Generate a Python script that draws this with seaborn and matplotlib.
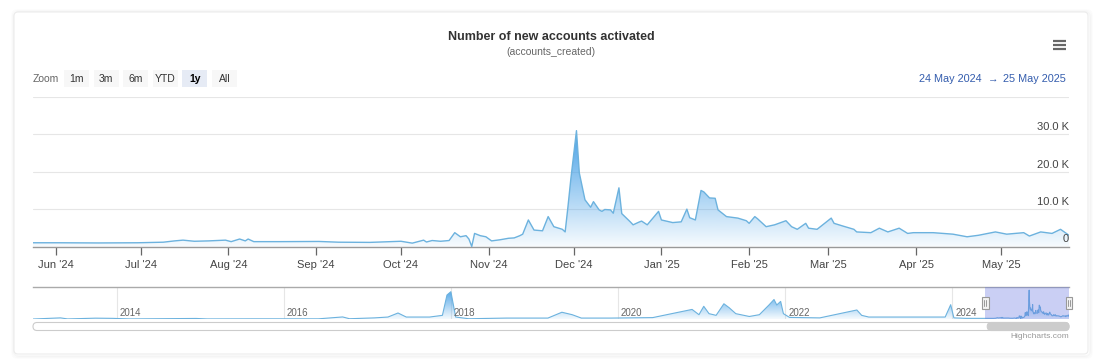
import numpy as np
import pandas as pd
import matplotlib
matplotlib.use("Agg")
import matplotlib.pyplot as plt
import matplotlib.dates as mdates
import matplotlib.transforms as mtransforms
from matplotlib.patches import FancyBboxPatch, Rectangle
from matplotlib.colors import LinearSegmentedColormap
import seaborn as sns

# ---- data ----
main_dates = [
    "2024-05-24", "2024-06-02", "2024-06-16", "2024-06-30", "2024-07-09", "2024-07-13",
    "2024-07-16", "2024-07-20", "2024-07-25", "2024-07-31", "2024-08-02", "2024-08-05",
    "2024-08-07", "2024-08-08", "2024-08-10", "2024-08-19", "2024-09-02", "2024-09-09",
    "2024-09-20", "2024-10-01", "2024-10-05", "2024-10-09", "2024-10-10", "2024-10-12",
    "2024-10-15", "2024-10-18", "2024-10-20", "2024-10-22", "2024-10-24", "2024-10-25",
    "2024-10-26", "2024-10-27", "2024-10-29", "2024-10-31", "2024-11-02", "2024-11-05",
    "2024-11-08", "2024-11-10", "2024-11-12", "2024-11-13", "2024-11-15", "2024-11-17",
    "2024-11-20", "2024-11-22", "2024-11-24", "2024-11-27", "2024-11-28", "2024-11-29",
    "2024-11-30", "2024-12-02", "2024-12-03", "2024-12-05", "2024-12-07", "2024-12-08",
    "2024-12-10", "2024-12-11", "2024-12-12", "2024-12-14", "2024-12-15", "2024-12-17",
    "2024-12-18", "2024-12-21", "2024-12-22", "2024-12-24", "2024-12-25", "2024-12-27",
    "2024-12-29", "2024-12-31", "2025-01-01", "2025-01-05", "2025-01-08", "2025-01-10",
    "2025-01-11", "2025-01-13", "2025-01-15", "2025-01-16", "2025-01-18", "2025-01-20",
    "2025-01-21", "2025-01-24", "2025-01-28", "2025-01-31", "2025-02-01", "2025-02-03",
    "2025-02-04", "2025-02-07", "2025-02-10", "2025-02-14", "2025-02-16", "2025-02-18",
    "2025-02-21", "2025-02-22", "2025-02-25", "2025-03-02", "2025-03-03", "2025-03-06",
    "2025-03-10", "2025-03-11", "2025-03-16", "2025-03-19", "2025-03-22", "2025-03-26",
    "2025-03-29", "2025-03-31", "2025-04-07", "2025-04-14", "2025-04-19", "2025-04-23",
    "2025-04-29", "2025-05-03", "2025-05-09", "2025-05-11", "2025-05-15", "2025-05-19",
    "2025-05-22", "2025-05-25",
]
main_counts = [
    1000, 1000, 950, 1000, 1150, 1500,
    1700, 1400, 1500, 1700, 1300, 2000,
    1500, 2000, 1300, 1300, 1350, 1150,
    1100, 1400, 900, 1700, 1200, 1600,
    1400, 1600, 3700, 2600, 2900, 2000,
    0, 3500, 2900, 2600, 1500, 1800,
    2200, 2300, 2900, 3300, 7100, 4400,
    4200, 8000, 5300, 4600, 3900, 10700,
    18000, 31000, 19700, 12500, 10500, 12000,
    9800, 9400, 9900, 9800, 8900, 15700,
    8800, 6600, 5800, 6500, 6800, 5800,
    7600, 9400, 7100, 6400, 6600, 10000,
    7700, 7100, 15000, 14600, 13000, 12900,
    9800, 8000, 7600, 6900, 6200, 8000,
    7400, 5300, 5800, 6900, 5300, 4600,
    6200, 4900, 4600, 7600, 6200, 5500,
    4600, 3900, 3700, 4900, 3900, 4900,
    3500, 3700, 3700, 3300, 2600, 3000,
    3900, 3300, 3700, 2800, 3900, 3500,
    4600, 3000,
]

# full history shown in the navigator (before the selected range)
hist_dates = [
    "2013-01-01", "2013-05-01", "2013-06-01", "2013-10-01", "2013-12-15", "2014-03-01",
    "2014-12-15", "2015-02-01", "2015-09-01", "2016-06-01", "2016-09-15", "2016-10-15",
    "2017-02-01", "2017-04-01", "2017-05-15", "2017-06-20", "2017-09-30", "2017-11-25",
    "2017-12-15", "2018-01-01", "2018-01-10", "2018-01-22", "2018-03-20", "2018-09-01",
    "2019-03-01", "2019-05-01", "2019-06-15", "2019-07-25", "2019-12-01", "2020-06-01",
    "2020-11-20", "2020-12-20", "2021-01-10", "2021-02-02", "2021-03-05", "2021-04-08",
    "2021-05-01", "2021-05-30", "2021-07-28", "2021-09-10", "2021-10-22", "2021-11-13",
    "2021-11-25", "2021-12-12", "2021-12-24", "2022-01-20", "2022-06-01", "2022-11-10",
    "2022-12-01", "2023-01-01", "2023-06-01", "2023-12-01", "2023-12-25", "2024-01-08",
    "2024-03-01", "2024-05-23",
]
hist_counts = [
    300, 1500, 400, 1200, 1000, 400,
    900, 400, 500, 500, 2500, 600,
    1500, 2400, 6700, 2400, 2400, 4200,
    25800, 29300, 18000, 2400, 600, 1300,
    1300, 7500, 4900, 1300, 1300, 1800,
    10500, 4900, 13800, 6000, 4200, 16500,
    12300, 6000, 3000, 4900, 15200, 21000,
    15200, 19000, 6000, 2000, 1500, 9900,
    4200, 2400, 2400, 2400, 15500, 1500,
    1000, 1000,
]

title = "Number of new accounts activated"
subtitle = "(accounts_created)"
zoom_buttons = ["1m", "3m", "6m", "YTD", "1y", "All"]
selected_button = "1y"
range_start = "2024-05-24"
range_end = "2025-05-25"
nav_start = "2013-01-01"
y_ticks = [0, 10000, 20000, 30000, 40000]

line_color = "#6cb2de"
fill_color = "#3f9de6"

sns.set_style("white")
plt.rcParams["font.family"] = ["Liberation Sans", "DejaVu Sans"]

W, H = 1099, 364
fig = plt.figure(figsize=(W / 100, H / 100), dpi=100)


def px_rect(x0, y0, x1, y1):
    return [x0 / W, 1 - y1 / H, (x1 - x0) / W, (y1 - y0) / H]


def gradient_area(ax, dates, values, lo_alpha, hi_alpha):
    poly = ax.fill_between(dates, 0, values, facecolor="none", edgecolor="none")
    cmap = LinearSegmentedColormap.from_list(
        "grad", [(*matplotlib.colors.to_rgb(fill_color), lo_alpha),
                 (*matplotlib.colors.to_rgb(fill_color), hi_alpha)])
    xs = mdates.date2num(dates)
    im = ax.imshow(np.linspace(0, 1, 256).reshape(-1, 1), aspect="auto", origin="lower",
                   extent=[xs.min(), xs.max(), 0, max(values)], cmap=cmap, zorder=1)
    im.set_clip_path(poly.get_paths()[0], transform=ax.transData)


# background card
bg = fig.add_axes([0, 0, 1, 1], zorder=0)
bg.set_xlim(0, W)
bg.set_ylim(H, 0)
bg.axis("off")
for grow, a in [(3, 0.012), (2, 0.02), (1, 0.03)]:
    bg.add_patch(FancyBboxPatch((14 - grow + 1, 12 - grow + 1), 1074 + 2 * grow, 342 + 2 * grow,
                                boxstyle="round,pad=0,rounding_size=5", fc="none",
                                ec=(0, 0, 0, a), lw=1.2))
bg.add_patch(FancyBboxPatch((14, 12), 1074, 342, boxstyle="round,pad=0,rounding_size=4",
                            fc="white", ec="#ececec", lw=0.8))

bg.text(551, 37, title, ha="center", va="center", fontsize=9, fontweight="bold", color="#333333")
bg.text(551, 52, subtitle, ha="center", va="center", fontsize=7.5, color="#666666")

# hamburger menu
for yy in (40.5, 44.5, 48.5):
    bg.plot([1053, 1066], [yy, yy], color="#666666", lw=1.6, solid_capstyle="butt")

# range selector buttons
bg.text(33, 79, "Zoom", ha="left", va="center", fontsize=7.5, color="#666666")
for i, lab in enumerate(zoom_buttons):
    x0 = 64 + i * 29.6
    sel = lab == selected_button
    bg.add_patch(Rectangle((x0, 70), 25, 17, fc="#e6ebf5" if sel else "#f7f7f7", ec="none"))
    bg.text(x0 + 12.5, 79, lab, ha="center", va="center", fontsize=7.5,
            color="#000000" if sel else "#333333", fontweight="bold" if sel else "normal")

start_lbl = pd.Timestamp(range_start).strftime("%d %b %Y").lstrip("0")
end_lbl = pd.Timestamp(range_end).strftime("%d %b %Y").lstrip("0")
bg.text(981.5, 79, start_lbl, ha="right", va="center", fontsize=7.8, color="#335cad")
bg.text(993, 79, "\u2192", ha="center", va="center", fontsize=7.5, color="#335cad")
bg.text(1066, 79, end_lbl, ha="right", va="center", fontsize=7.8, color="#335cad")

# ---- main chart ----
df = pd.DataFrame({"date": pd.to_datetime(main_dates), "count": main_counts})
ax = fig.add_axes(px_rect(33, 97, 1069, 246.5), zorder=1)
ax.patch.set_alpha(0)
gradient_area(ax, df["date"], df["count"], 0.04, 0.95)
sns.lineplot(data=df, x="date", y="count", ax=ax, color=line_color, lw=1.0, zorder=3)
ax.set_xlim(pd.Timestamp(range_start), pd.Timestamp(range_end))
ax.set_ylim(0, y_ticks[-1])
ax.set_xlabel("")
ax.set_ylabel("")
ax.set_yticks(y_ticks)
ax.yaxis.grid(True, color="#e6e6e6", lw=0.8)
ax.xaxis.grid(False)
ax.tick_params(axis="y", length=0, labelleft=False)
for v in y_ticks[:-1]:
    lbl = "0" if v == 0 else f"{v / 1000:.1f} K"
    ax.text(1.0, v, lbl, transform=mtransforms.offset_copy(ax.get_yaxis_transform(), fig=fig, x=0, y=2, units="dots"),
            ha="right", va="bottom", fontsize=8, color="#444444")
ax.xaxis.set_major_locator(mdates.MonthLocator())
ax.xaxis.set_major_formatter(mdates.DateFormatter("%b '%y"))
ax.tick_params(axis="x", bottom=True, direction="out", length=6, width=0.9, color="#666666",
               labelsize=8, labelcolor="#444444", pad=4)
sns.despine(ax=ax, left=True, top=True, right=True)
ax.spines["bottom"].set_color("#999999")
ax.spines["bottom"].set_linewidth(1.0)

# ---- navigator ----
nav_df = pd.concat([
    pd.DataFrame({"date": pd.to_datetime(hist_dates), "count": hist_counts}), df
], ignore_index=True)
nav = fig.add_axes(px_rect(33, 287.3, 1069, 319.3), zorder=1)
nav.patch.set_alpha(0)
gradient_area(nav, nav_df["date"], nav_df["count"], 0.05, 0.95)
sns.lineplot(data=nav_df, x="date", y="count", ax=nav, color=line_color, lw=0.8, zorder=3)
nav.set_xlim(pd.Timestamp(nav_start), pd.Timestamp(range_end))
nav.set_ylim(0, 34000)
nav.set_xlabel("")
nav.set_ylabel("")
nav.set_yticks([])
nav.xaxis.set_major_locator(mdates.YearLocator(2))
nav.xaxis.grid(True, color="#e6e6e6", lw=0.8)
nav.tick_params(axis="x", length=0, labelbottom=False)
year_trans = mtransforms.offset_copy(mtransforms.blended_transform_factory(nav.transData, nav.transAxes),
                                     fig=fig, x=3, y=0, units="dots")
for yr in range(2014, 2025, 2):
    nav.text(pd.Timestamp(f"{yr}-01-01"), 0.2, str(yr), transform=year_trans, ha="left", va="center",
             fontsize=7, color="#666666")
for s in ("left", "right", "bottom"):
    nav.spines[s].set_visible(False)
nav.spines["top"].set_color("#aaaaaa")
nav.spines["top"].set_linewidth(1.0)
nav.axvspan(pd.Timestamp(range_start), pd.Timestamp(range_end), color="#6878e0", alpha=0.35, lw=0, zorder=4)

# navigator handles
hb = mtransforms.blended_transform_factory(nav.transData, nav.transAxes)
x0n, x1n = nav.get_xlim()
dpp = (x1n - x0n) / (1069 - 33)
for d in (range_start, range_end):
    dn = mdates.date2num(pd.Timestamp(d))
    nav.add_patch(Rectangle((dn - 3.5 * dpp, 0.33), 7 * dpp, 0.36, transform=hb, fc="#f2f2f2",
                            ec="#999999", lw=0.8, clip_on=False, zorder=6))
    for off in (-1, 1):
        nav.plot([dn + off * dpp, dn + off * dpp], [0.42, 0.6], transform=hb, color="#999999",
                 lw=0.7, clip_on=False, zorder=7)

# scrollbar + credits
fg = fig.add_axes([0, 0, 1, 1], zorder=2)
fg.set_xlim(0, W)
fg.set_ylim(H, 0)
fg.axis("off")
fg.patch.set_alpha(0)
fg.add_patch(FancyBboxPatch((33, 322.5), 1036, 8, boxstyle="round,pad=0,rounding_size=4",
                            fc="white", ec="#cccccc", lw=0.8))
t0 = nav.transData.transform((mdates.date2num(pd.Timestamp(range_start)), 0))[0]
t1 = nav.transData.transform((mdates.date2num(pd.Timestamp(range_end)), 0))[0]
fg.add_patch(FancyBboxPatch((t0 + 2, 322.5), t1 - t0 - 2, 8, boxstyle="round,pad=0,rounding_size=4",
                            fc="#cccccc", ec="#cccccc", lw=0.8))
fg.text(1069, 337, "Highcharts.com", ha="right", va="center", fontsize=6, color="#999999")

fig.savefig("out.png", dpi=100)
